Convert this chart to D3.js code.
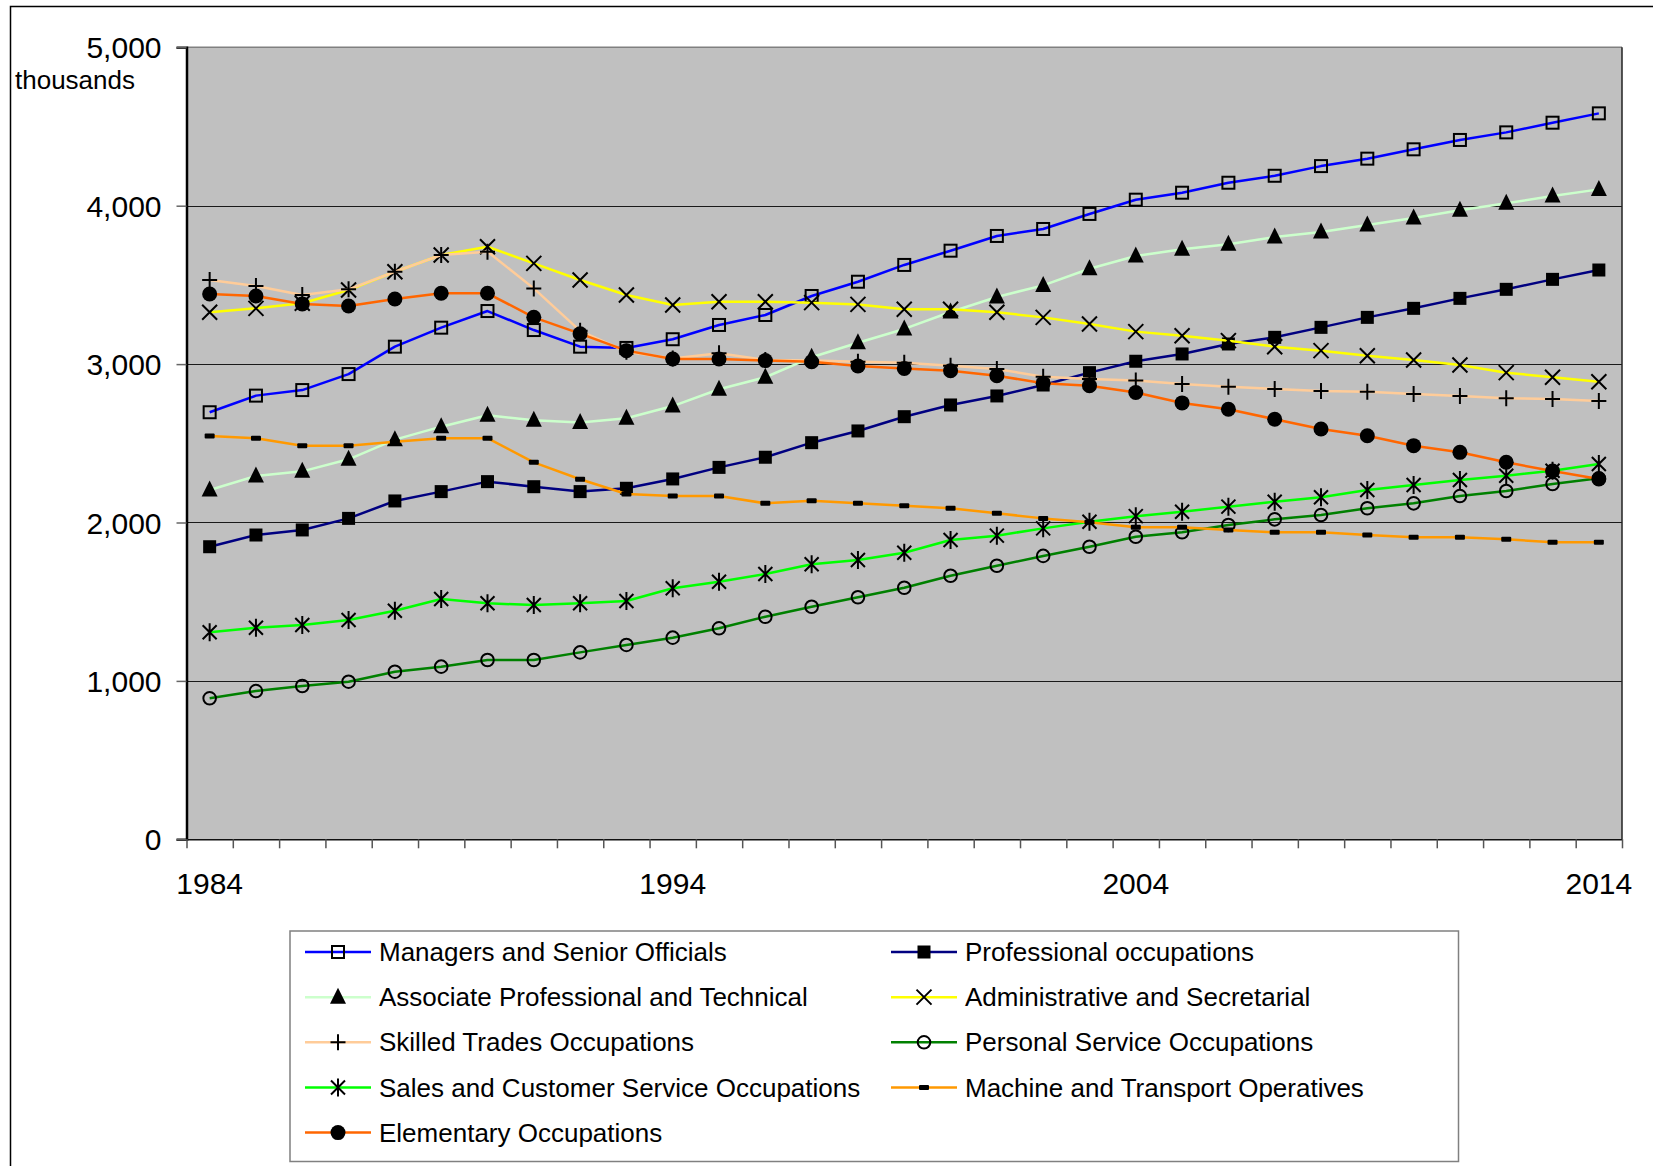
<!DOCTYPE html>
<html>
<head>
<meta charset="utf-8">
<script src="https://cdn.jsdelivr.net/npm/d3@7/dist/d3.min.js"></script>
<style>
  html, body { margin: 0; padding: 0; background: #fff; }
  svg { display: block; }
  text { font-family: "Liberation Sans", Arial, Helvetica, sans-serif; fill: #000; }
</style>
</head>
<body>
<svg id="chart" width="1653" height="1166"></svg>
<script>
// Employment by occupation group, thousands, 1984-2014
const years = d3.range(1984, 2015);
const yearLabels = [1984, 1994, 2004, 2014];
const yTicks = [0, 1000, 2000, 3000, 4000, 5000];

const managers = [2696, 2801, 2836, 2937, 3110, 3230, 3335, 3215, 3110, 3102, 3157, 3247, 3310, 3430, 3520, 3626, 3716, 3809, 3853, 3948, 4038, 4082, 4145, 4189, 4250, 4297, 4356, 4415, 4463, 4524, 4583];
const professional = [1847, 1921, 1953, 2026, 2136, 2195, 2258, 2226, 2195, 2216, 2275, 2348, 2412, 2504, 2578, 2668, 2742, 2799, 2868, 2946, 3018, 3064, 3127, 3169, 3232, 3295, 3352, 3415, 3472, 3535, 3594];
const associate = [2205, 2294, 2323, 2399, 2523, 2605, 2677, 2645, 2632, 2658, 2735, 2841, 2917, 3043, 3135, 3222, 3329, 3424, 3497, 3602, 3682, 3725, 3756, 3802, 3834, 3878, 3922, 3971, 4015, 4061, 4103];
const administrative = [3327, 3352, 3384, 3468, 3583, 3689, 3741, 3636, 3531, 3436, 3373, 3394, 3394, 3388, 3377, 3346, 3346, 3327, 3295, 3253, 3205, 3179, 3148, 3110, 3085, 3053, 3026, 2994, 2946, 2917, 2889];
const skilled = [3531, 3493, 3436, 3472, 3583, 3689, 3710, 3478, 3210, 3078, 3036, 3068, 3026, 3022, 3015, 3009, 2990, 2969, 2920, 2906, 2896, 2874, 2857, 2843, 2830, 2826, 2811, 2799, 2784, 2780, 2767];
const personal = [890, 936, 968, 995, 1058, 1090, 1132, 1132, 1180, 1227, 1273, 1332, 1405, 1468, 1528, 1588, 1664, 1727, 1789, 1847, 1910, 1938, 1984, 2020, 2047, 2090, 2121, 2167, 2199, 2243, 2279];
const sales = [1307, 1336, 1353, 1384, 1443, 1517, 1490, 1479, 1490, 1504, 1585, 1626, 1675, 1736, 1763, 1809, 1890, 1917, 1963, 2005, 2040, 2068, 2100, 2131, 2159, 2205, 2237, 2268, 2295, 2327, 2369];
const machine = [2546, 2532, 2485, 2485, 2510, 2532, 2532, 2380, 2273, 2180, 2167, 2167, 2121, 2138, 2121, 2106, 2090, 2058, 2026, 2001, 1970, 1970, 1953, 1938, 1938, 1921, 1907, 1907, 1894, 1875, 1875];
const elementary = [3443, 3430, 3380, 3367, 3411, 3447, 3447, 3295, 3192, 3085, 3032, 3032, 3022, 3015, 2988, 2973, 2958, 2927, 2879, 2864, 2821, 2755, 2715, 2652, 2590, 2548, 2485, 2443, 2380, 2325, 2275];

const seriesNames = [
  "Managers and Senior Officials",
  "Professional occupations",
  "Associate Professional and Technical",
  "Administrative and Secretarial",
  "Skilled Trades Occupations",
  "Personal Service Occupations",
  "Sales and Customer Service Occupations",
  "Machine and Transport Operatives",
  "Elementary Occupations"
];
const seriesValues = [managers, professional, associate, administrative, skilled, personal, sales, machine, elementary];
const seriesColors = ["#0000FF", "#000080", "#CCFFCC", "#FFFF00", "#FFCC99", "#008000", "#00FF00", "#FF9900", "#FF6600"];
const seriesMarkers = ["openSquare", "square", "triangle", "times", "plus", "openCircle", "asterisk", "dash", "circle"];

const svg = d3.select("#chart");

// outer chart frame
svg.append("rect")
  .attr("x", 10.5).attr("y", 6.5)
  .attr("width", 1700).attr("height", 1200)
  .attr("fill", "none").attr("stroke", "#000").attr("stroke-width", 1.5);

const plot = { left: 186.5, right: 1622, top: 47.3, bottom: 839.3 };

const x = d3.scaleBand().domain(years).range([plot.left, plot.right]).paddingInner(0).paddingOuter(0);
const xc = d => x(d) + x.bandwidth() / 2;
const xEdge = d3.scaleLinear().domain([0, years.length]).range([plot.left, plot.right]);
const y = d3.scaleLinear().domain([0, 5000]).range([plot.bottom, plot.top]);

// plot background
svg.append("rect")
  .attr("x", plot.left).attr("y", plot.top)
  .attr("width", plot.right - plot.left).attr("height", plot.bottom - plot.top)
  .attr("fill", "#C0C0C0");

// horizontal gridlines
svg.append("g")
  .selectAll("line")
  .data(yTicks.filter(v => v > 0 && v < 5000))
  .join("line")
  .attr("x1", plot.left).attr("x2", plot.right)
  .attr("y1", d => Math.round(y(d)) + 0.5).attr("y2", d => Math.round(y(d)) + 0.5)
  .attr("stroke", "#1a1a1a").attr("stroke-width", 1);

// plot frame: top grey, right dark
svg.append("line").attr("x1", plot.left).attr("x2", plot.right)
  .attr("y1", plot.top).attr("y2", plot.top).attr("stroke", "#808080").attr("stroke-width", 1.5);
svg.append("line").attr("x1", plot.right).attr("x2", plot.right)
  .attr("y1", plot.top).attr("y2", plot.bottom).attr("stroke", "#222").attr("stroke-width", 1.5);

// y axis
const yAxis = svg.append("g")
  .attr("transform", `translate(${plot.left},0)`)
  .call(d3.axisLeft(y).tickValues(yTicks).tickFormat(d3.format(",")).tickSize(10).tickPadding(15));
yAxis.select(".domain").attr("stroke", "#000").attr("stroke-width", 2.5);
yAxis.selectAll(".tick line").attr("stroke", "#666").attr("stroke-width", 1.5);
yAxis.selectAll(".tick text").attr("font-size", 30).attr("dy", "0.35em")
  .attr("font-family", "'Liberation Sans', Arial, sans-serif");

// x axis: boundary ticks between categories
const xTickAxis = svg.append("g")
  .attr("transform", `translate(0,${plot.bottom})`)
  .call(d3.axisBottom(xEdge).tickValues(d3.range(years.length + 1)).tickFormat("").tickSize(9).tickSizeOuter(0));
xTickAxis.select(".domain").attr("stroke", "#111").attr("stroke-width", 1.5);
xTickAxis.selectAll(".tick line").attr("stroke", "#555").attr("stroke-width", 1.5);

// x axis labels centred on categories
const xLabelAxis = svg.append("g")
  .attr("transform", `translate(0,${plot.bottom})`)
  .call(d3.axisBottom(x).tickValues(yearLabels).tickSize(0).tickPadding(0));
xLabelAxis.select(".domain").remove();
xLabelAxis.selectAll(".tick text").attr("font-size", 30).attr("y", 894 - plot.bottom).attr("dy", 0)
  .attr("font-family", "'Liberation Sans', Arial, sans-serif");

// unit label
svg.append("text").attr("x", 15).attr("y", 89).attr("font-size", 26).text("thousands");

// marker drawing
function drawMarker(g, type) {
  const sw = 2;
  switch (type) {
    case "openSquare":
      g.append("rect").attr("x", -6).attr("y", -6).attr("width", 12).attr("height", 12)
        .attr("fill", "none").attr("stroke", "#000").attr("stroke-width", sw);
      break;
    case "square":
      g.append("rect").attr("x", -6.5).attr("y", -6.5).attr("width", 13).attr("height", 13).attr("fill", "#000");
      break;
    case "triangle":
      g.append("path").attr("d", "M0,-9.5L8,6.5L-8,6.5Z").attr("fill", "#000");
      break;
    case "times":
      g.append("path").attr("d", "M-7.5,-7.5L7.5,7.5M-7.5,7.5L7.5,-7.5").attr("stroke", "#000").attr("stroke-width", sw).attr("fill", "none");
      break;
    case "plus":
      g.append("path").attr("d", "M-7.5,0L7.5,0M0,-8L0,8").attr("stroke", "#000").attr("stroke-width", sw).attr("fill", "none");
      break;
    case "openCircle":
      g.append("circle").attr("r", 6.3).attr("fill", "none").attr("stroke", "#000").attr("stroke-width", sw);
      break;
    case "asterisk":
      g.append("path").attr("d", "M-7,-7L7,7M-7,7L7,-7M0,-9L0,9").attr("stroke", "#000").attr("stroke-width", sw).attr("fill", "none");
      break;
    case "dash":
      g.append("rect").attr("x", -5).attr("y", -2.5).attr("width", 10).attr("height", 5).attr("rx", 1).attr("fill", "#000");
      break;
    case "circle":
      g.append("circle").attr("r", 7.5).attr("fill", "#000");
      break;
  }
}

// series lines and markers
const line = d3.line().x((d, i) => xc(years[i])).y(d => y(d));
seriesValues.forEach((vals, s) => {
  const g = svg.append("g").attr("class", "series");
  g.append("path").datum(vals)
    .attr("d", line)
    .attr("fill", "none")
    .attr("stroke", seriesColors[s])
    .attr("stroke-width", 2.5)
    .attr("stroke-linejoin", "round");
  g.selectAll("g.mk").data(vals).join("g").attr("class", "mk")
    .attr("transform", (d, i) => `translate(${xc(years[i])},${y(d)})`)
    .each(function () { drawMarker(d3.select(this), seriesMarkers[s]); });
});

// legend
const legend = svg.append("g");
legend.append("rect")
  .attr("x", 290).attr("y", 931).attr("width", 1168.5).attr("height", 230.5)
  .attr("fill", "#fff").attr("stroke", "#808080").attr("stroke-width", 1.5);
const colX = [305, 891];
seriesNames.forEach((name, k) => {
  const cx = colX[k % 2];
  const cy = 952 + Math.floor(k / 2) * 45.15;
  const item = legend.append("g");
  item.append("line").attr("x1", cx).attr("x2", cx + 66).attr("y1", cy).attr("y2", cy)
    .attr("stroke", seriesColors[k]).attr("stroke-width", 2.5);
  drawMarker(item.append("g").attr("transform", `translate(${cx + 33},${cy})`), seriesMarkers[k]);
  item.append("text").attr("x", cx + 74).attr("y", cy).attr("dy", "0.35em")
    .attr("font-size", 26).text(name);
});
</script>
</body>
</html>
